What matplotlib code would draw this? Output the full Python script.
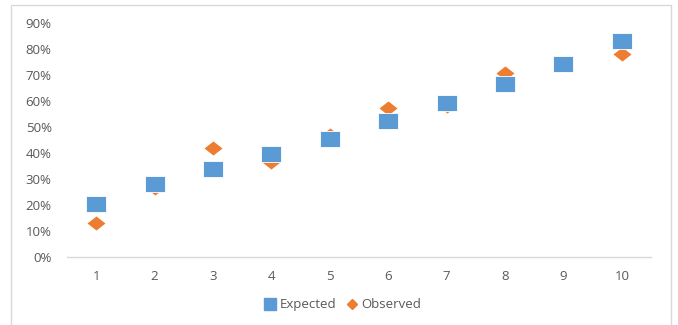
import matplotlib
matplotlib.use('Agg')
import matplotlib.pyplot as plt
from matplotlib.path import Path
from matplotlib.patches import Rectangle
from matplotlib.ticker import PercentFormatter
from matplotlib.lines import Line2D

plt.rcParams['font.family'] = ['Open Sans', 'DejaVu Sans']

# data
trials = [1, 2, 3, 4, 5, 6, 7, 8, 9, 10]
expected = [0.204, 0.28, 0.34, 0.396, 0.453, 0.521, 0.593, 0.663, 0.743, 0.83]
observed = [0.132, 0.266, 0.42, 0.364, 0.468, 0.571, 0.581, 0.707, 0.743, 0.779]

BLUE = '#5B9BD5'
ORANGE = '#ED7D31'
TEXT = '#595959'

# slightly wide markers (square and diamond)
wide_square = Path([(-1.28, -1), (1.28, -1), (1.28, 1), (-1.28, 1), (-1.28, -1)], closed=True)
wide_diamond = Path([(0, -1), (1.28, 0), (0, 1), (-1.28, 0), (0, -1)], closed=True)

fig = plt.figure(figsize=(6.78, 3.25), dpi=100, facecolor='white')
ax = fig.add_axes([0.0988, 0.2092, 0.8614, 0.7208])

# chart frame
fig.patches.append(Rectangle((11 / 678, -0.1), 660 / 678, 1.1 - 5.5 / 325,
                             transform=fig.transFigure, fill=False,
                             edgecolor='#d9d9d9', linewidth=1))

ax.plot(trials, observed, linestyle='none', marker=wide_diamond, markersize=13,
        color=ORANGE, markeredgewidth=0, label='Observed', zorder=3)
ax.plot(trials, expected, linestyle='none', marker=wide_square, markersize=14.8,
        color=BLUE, markeredgecolor='white', markeredgewidth=0.6, label='Expected', zorder=4)

ax.set_xlim(0.5, 10.5)
ax.set_ylim(0, 0.9)
ax.set_xticks(trials)
ax.set_yticks([i / 10 for i in range(10)])
ax.yaxis.set_major_formatter(PercentFormatter(1.0, decimals=0))

for side in ['top', 'right', 'left']:
    ax.spines[side].set_visible(False)
ax.spines['bottom'].set_color('#d9d9d9')
ax.spines['bottom'].set_linewidth(1)
ax.tick_params(axis='both', length=0, labelsize=9.5, colors=TEXT)
ax.tick_params(axis='x', pad=9)
ax.tick_params(axis='y', pad=11)

handles = [
    Line2D([], [], linestyle='none', marker='s', markersize=8, color=BLUE),
    Line2D([], [], linestyle='none', marker='D', markersize=5.5, color=ORANGE),
]
fig.legend(handles, ['Expected', 'Observed'], loc='center', bbox_to_anchor=(0.506, 0.062),
           ncol=2, frameon=False, fontsize=9.5, labelcolor=TEXT,
           handlelength=0.8, handletextpad=0.3, columnspacing=0.8)

fig.savefig('out.png', dpi=100, facecolor='white')
